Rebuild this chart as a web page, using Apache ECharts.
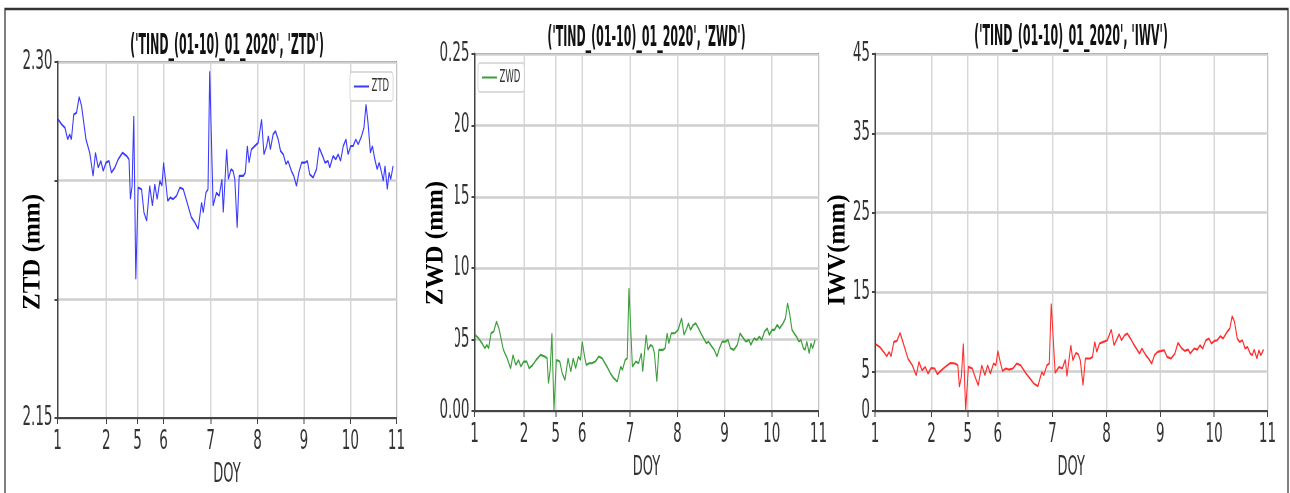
<!DOCTYPE html>
<html>
<head>
<meta charset="utf-8">
<script src="https://cdn.jsdelivr.net/npm/echarts@6/dist/echarts.min.js"></script>
<style>
  html, body { margin: 0; padding: 0; background: #fff; overflow: hidden; }
  /* the source figure is squeezed sideways, so the chart is drawn twice as wide and halved */
  #chart { width: 2580px; height: 493px; transform: scaleX(0.5); transform-origin: 0 0; }
</style>
</head>
<body>
<div id="chart"></div>
<script>
// time position along the DOY axis (plot coordinate)
const epochs = [1.02,1.12,1.22,1.30,1.36,1.41,1.48,1.56,1.64,1.71,1.84,1.95,2.05,2.12,2.20,2.28,2.35,2.43,2.52,2.59,
  2.69,2.79,2.92,3.04,3.11,3.15,3.20,3.25,3.31,3.38,3.48,3.55,3.63,3.72,3.80,3.87,3.94,4.02,4.08,4.13,
  4.20,4.25,4.33,4.41,4.51,4.61,4.71,4.85,4.95,5.05,5.15,5.25,5.30,5.38,5.44,5.49,5.59,5.69,5.77,5.85,
  5.89,5.99,6.04,6.12,6.18,6.23,6.30,6.36,6.48,6.54,6.60,6.65,6.72,6.82,6.92,7.02,7.09,7.17,7.22,7.28,
  7.36,7.43,7.51,7.58,7.66,7.74,7.80,7.90,7.97,8.05,8.12,8.20,8.30,8.37,8.44,8.54,8.64,8.72,8.82,8.89,
  8.98,9.03,9.13,9.21,9.28,9.35,9.43,9.51,9.57,9.65,9.72,9.80,9.87,9.97,10.04,10.10,10.16,10.23,10.29,10.36,
  10.43,10.49,10.56,10.61,10.66,10.73,10.78,10.83,10.90];

const ztd = [2.2758,2.2737,2.2723,2.2674,2.2695,2.2674,2.2779,2.2786,2.2853,2.2814,2.2674,2.2618,2.2520,2.2618,2.2555,2.2583,2.2541,2.2576,2.2583,2.2534,
  2.2555,2.2590,2.2618,2.2604,2.2590,2.2422,2.2478,2.2772,2.2085,2.2471,2.2464,2.2366,2.2331,2.2478,2.2394,2.2485,2.2422,2.2499,2.2478,2.2576,
  2.2485,2.2415,2.2429,2.2422,2.2436,2.2471,2.2464,2.2394,2.2345,2.2324,2.2296,2.2408,2.2366,2.2450,2.2464,2.2961,2.2394,2.2450,2.2436,2.2506,
  2.2366,2.2632,2.2506,2.2548,2.2541,2.2506,2.2302,2.2520,2.2520,2.2534,2.2646,2.2576,2.2632,2.2646,2.2660,2.2758,2.2611,2.2646,2.2688,2.2632,
  2.2695,2.2709,2.2674,2.2625,2.2611,2.2569,2.2583,2.2541,2.2520,2.2478,2.2534,2.2576,2.2576,2.2583,2.2527,2.2513,2.2548,2.2639,2.2604,2.2576,
  2.2583,2.2555,2.2604,2.2590,2.2611,2.2583,2.2646,2.2674,2.2611,2.2646,2.2646,2.2674,2.2653,2.2688,2.2723,2.2821,2.2744,2.2618,2.2646,2.2590,
  2.2548,2.2576,2.2534,2.2499,2.2562,2.2464,2.2534,2.2506,2.2562];

const zwd = [0.0533,0.0509,0.0474,0.0439,0.0463,0.0439,0.0544,0.0556,0.0626,0.0579,0.0428,0.0369,0.0299,0.0393,0.0322,0.0357,0.0311,0.0346,0.0346,0.0299,
  0.0322,0.0357,0.0393,0.0381,0.0369,0.0194,0.0287,0.0544,0.0007,0.0357,0.0346,0.0264,0.0217,0.0369,0.0276,0.0369,0.0299,0.0381,0.0357,0.0486,
  0.0381,0.0322,0.0334,0.0334,0.0346,0.0381,0.0369,0.0311,0.0264,0.0229,0.0206,0.0311,0.0287,0.0357,0.0369,0.0860,0.0311,0.0346,0.0334,0.0404,
  0.0276,0.0533,0.0428,0.0463,0.0451,0.0404,0.0206,0.0428,0.0428,0.0439,0.0544,0.0474,0.0544,0.0544,0.0568,0.0650,0.0533,0.0579,0.0614,0.0568,
  0.0603,0.0614,0.0579,0.0544,0.0509,0.0474,0.0486,0.0451,0.0428,0.0381,0.0439,0.0486,0.0486,0.0498,0.0439,0.0428,0.0463,0.0544,0.0509,0.0486,
  0.0498,0.0463,0.0509,0.0498,0.0521,0.0498,0.0556,0.0579,0.0533,0.0568,0.0568,0.0603,0.0579,0.0614,0.0650,0.0755,0.0685,0.0568,0.0544,0.0521,
  0.0486,0.0498,0.0439,0.0428,0.0486,0.0404,0.0474,0.0439,0.0498];

const iwv = [8.42,8.08,7.45,6.90,7.45,6.90,8.71,8.84,9.85,8.71,6.61,5.77,4.50,6.19,5.13,5.56,4.71,5.43,5.35,4.63,
  5.13,5.56,6.06,5.98,5.77,3.03,4.29,8.50,0.08,5.56,5.35,4.29,3.24,5.77,4.50,5.77,4.71,5.98,5.77,7.58,
  5.98,5.05,5.35,5.22,5.35,5.98,5.77,4.71,4.08,3.45,3.11,4.92,4.50,5.77,5.98,13.55,4.80,5.56,5.35,6.48,
  4.38,8.29,6.40,7.32,7.15,6.40,3.24,6.61,6.61,6.82,8.71,7.45,8.50,8.71,8.92,10.27,8.29,9.13,9.68,8.92,
  9.55,9.76,9.13,8.50,7.87,7.24,7.87,7.03,6.61,5.98,7.03,7.45,7.58,7.66,6.82,6.61,7.24,8.59,7.87,7.58,
  7.74,7.24,7.87,7.74,8.29,7.87,8.92,9.13,8.50,8.84,8.92,9.43,9.13,9.97,10.40,11.95,11.24,9.13,8.71,8.92,
  7.87,8.08,7.24,7.03,7.74,6.61,7.66,7.03,7.74];

// DOY tick labels and where they sit on the axis
const doyTicks = [1, 2.44, 3.36, 4.13, 5.52, 6.90, 8.27, 9.64, 11];
const doyLabels = ['1', '2', '5', '6', '7', '8', '9', '10', '11'];
const iwvTicks = [0, 5, 15, 25, 35, 45];

const chartDom = document.getElementById('chart');
const chart = echarts.init(chartDom, null, { renderer: 'canvas' });

const tickFont = 'DejaVu Sans';
const grids = [
  { left: 115, top: 62, width: 678, height: 357 },
  { left: 949, top: 54, width: 688, height: 357 },
  { left: 1750, top: 54, width: 785, height: 357 }
];

function doyFormatter(v) {
  const i = doyTicks.findIndex(p => Math.abs(p - v) < 1e-6);
  return i >= 0 ? doyLabels[i] : '';
}

function xAxisFor(idx) {
  return {
    gridIndex: idx,
    type: 'value',
    min: 1,
    max: 11,
    name: 'DOY',
    nameLocation: 'middle',
    nameGap: 44,
    nameTextStyle: { fontFamily: tickFont, fontSize: 26, color: '#333' },
    axisLine: { show: true, lineStyle: { color: '#444', width: 2 } },
    axisTick: { show: true, customValues: doyTicks, length: 6, lineStyle: { color: '#444', width: 2 } },
    axisLabel: {
      customValues: doyTicks, formatter: doyFormatter, showMinLabel: true, showMaxLabel: true,
      fontFamily: tickFont, fontSize: 27, color: '#333', margin: 10
    },
    splitLine: { show: true, lineStyle: { color: '#d2d2d2', width: 2.5 } }
  };
}

function yAxisFor(idx, extra) {
  return Object.assign({
    gridIndex: idx,
    type: 'value',
    axisLine: { show: true, lineStyle: { color: '#444', width: 3 } },
    axisTick: { show: true, length: 6, lineStyle: { color: '#444', width: 2 } },
    splitLine: { show: true, lineStyle: { color: '#cfcfcf', width: 2.5 } }
  }, extra);
}

const yLabelStyle = { fontFamily: tickFont, fontSize: 27, color: '#333', margin: 10 };

function lineSeries(name, idx, values, color) {
  return {
    name: name,
    type: 'line',
    xAxisIndex: idx,
    yAxisIndex: idx,
    data: epochs.map((t, k) => [t, values[k]]),
    showSymbol: false,
    lineStyle: { width: 2.1, color: color },
    itemStyle: { color: color },
    emphasis: { disabled: true }
  };
}

function titleText(x, y, text) {
  return {
    type: 'text', x: x, y: y, scaleY: 1.25, z: 60,
    style: { text: text, fontFamily: tickFont, fontWeight: 'bold', fontSize: 22, fill: '#111',
      textAlign: 'center', textVerticalAlign: 'middle' }
  };
}

function axisName(x, y, text) {
  // scaleY undoes the sideways squeeze for the rotated serif labels
  return {
    type: 'text', x: x, y: y, rotation: Math.PI / 2, scaleY: 2, z: 60,
    style: { text: text, fontFamily: 'Liberation Serif', fontWeight: 'bold', fontSize: 25, fill: '#000',
      textAlign: 'center', textVerticalAlign: 'middle' }
  };
}

const legendBase = {
  icon: 'rect', itemWidth: 30, itemHeight: 2, padding: [6, 8, 6, 8],
  borderColor: '#d0d0d0', borderWidth: 1.5, borderRadius: 4, backgroundColor: '#fff',
  textStyle: { fontFamily: tickFont, fontSize: 17, color: '#333' }, selectedMode: false
};

let option;

option = {
  animation: false,
  backgroundColor: '#fff',
  grid: grids.map(g => Object.assign({ show: true, borderColor: '#666', borderWidth: 2 }, g)),
  legend: [
    Object.assign({ data: ['ZTD'], left: 700, top: 72 }, legendBase),
    Object.assign({ data: ['ZWD'], left: 956, top: 63 }, legendBase)
  ],
  xAxis: [xAxisFor(0), xAxisFor(1), xAxisFor(2)],
  yAxis: [
    yAxisFor(0, { min: 2.15, max: 2.30, interval: 0.05,
      axisLabel: Object.assign({ formatter: v => v.toFixed(2) }, yLabelStyle) }),
    yAxisFor(1, { min: 0, max: 0.25, interval: 0.05,
      axisLabel: Object.assign({ formatter: v => v.toFixed(2) }, yLabelStyle) }),
    yAxisFor(2, { min: 0, max: 45,
      axisTick: { show: true, customValues: iwvTicks, length: 6, lineStyle: { color: '#444', width: 2 } },
      axisLabel: Object.assign({ customValues: iwvTicks }, yLabelStyle) })
  ],
  series: [
    lineSeries('ZTD', 0, ztd, '#3a3aff'),
    lineSeries('ZWD', 1, zwd, '#3b9e3b'),
    lineSeries('IWV', 2, iwv, '#ff2e2e')
  ],
  graphic: [
    { type: 'rect', z: 40, shape: { x: 10, y: 9, width: 2566, height: 500 },
      style: { fill: 'none', stroke: '#333', lineWidth: 2.5 } },
    // white patches behind the y titles, as in the source figure
    { type: 'rect', z: 50, shape: { x: 20, y: 165, width: 88, height: 155 }, style: { fill: '#fff' } },
    { type: 'rect', z: 50, shape: { x: 836, y: 110, width: 74, height: 245 }, style: { fill: '#fff' } },
    titleText(454, 47, "('TIND_(01-10)_01_2020', 'ZTD')"),
    titleText(1293, 39, "('TIND_(01-10)_01_2020', 'ZWD')"),
    titleText(2142, 38, "('TIND_(01-10)_01_2020', 'IWV')"),
    axisName(66, 252, 'ZTD (mm)'),
    axisName(872, 243, 'ZWD (mm)'),
    axisName(1676, 250, 'IWV(mm)')
  ]
};

window.addEventListener('resize', function () {
  chart.resize();
});

option && chart.setOption(option);
</script>
</body>
</html>
